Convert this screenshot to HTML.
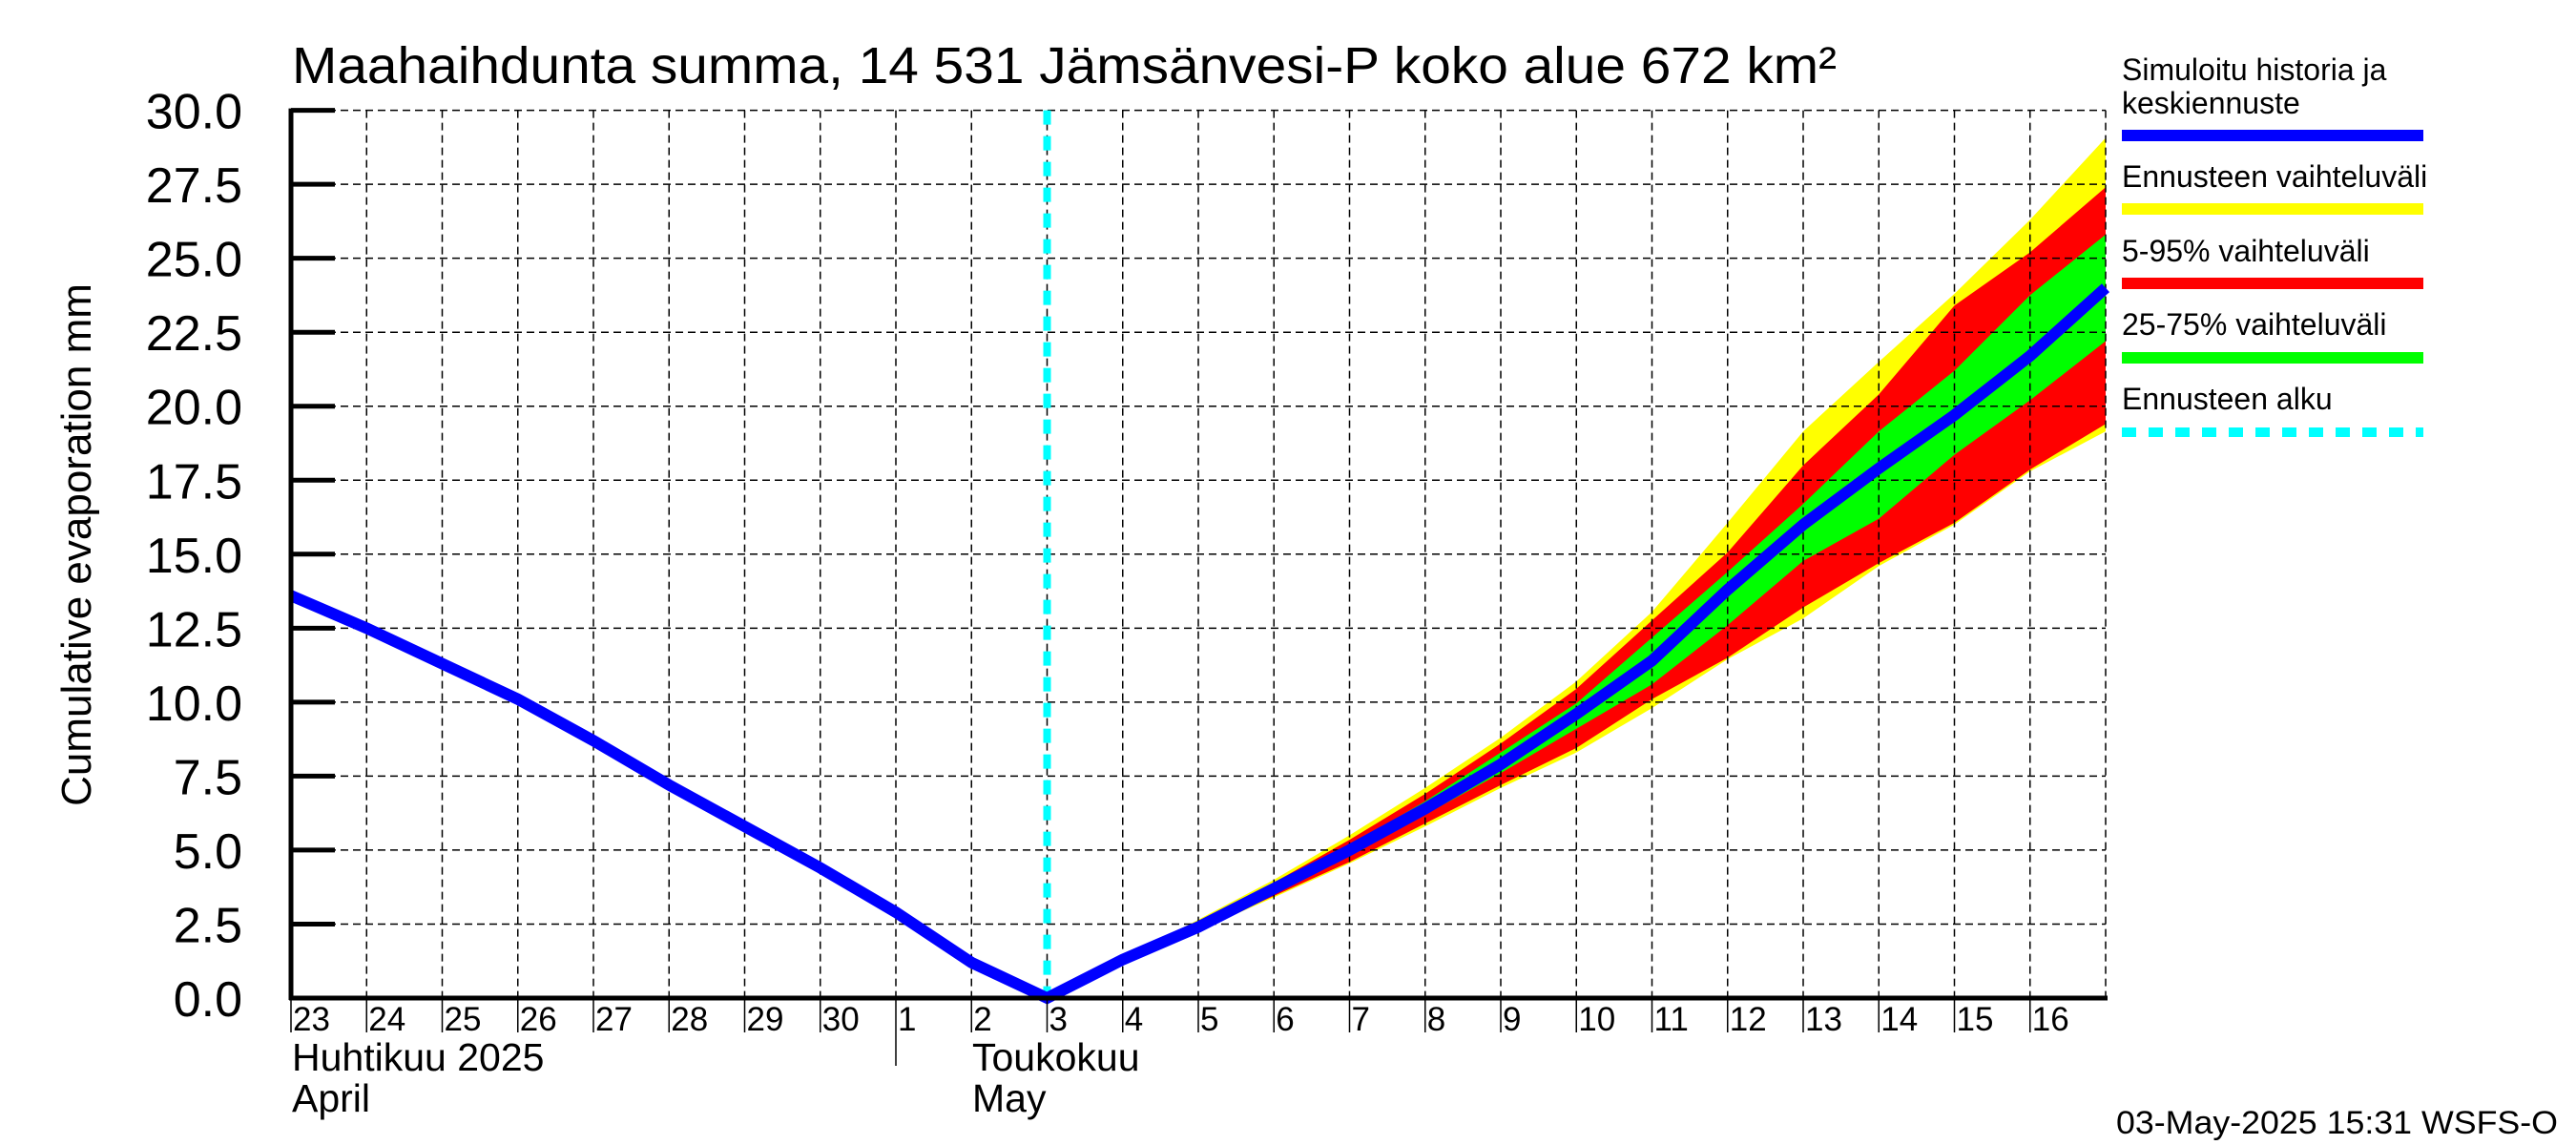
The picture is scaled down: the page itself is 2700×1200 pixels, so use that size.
<!DOCTYPE html>
<html><head><meta charset="utf-8"><style>
html,body{margin:0;padding:0;background:#fff;}
svg{display:block;font-family:"Liberation Sans",Arial,sans-serif;}
</style></head><body>
<svg id="chart" width="2700" height="1200" viewBox="0 0 2700 1200" xmlns="http://www.w3.org/2000/svg">
<rect x="0" y="0" width="2700" height="1200" fill="#fff"/>
<text x="306" y="87" font-size="54" textLength="1619" lengthAdjust="spacingAndGlyphs">Maahaihdunta summa, 14 531 Jämsänvesi-P koko alue 672 km²</text>
<g id="bands"></g>
<g id="grid"></g>
<g id="lines"></g>
<g id="axes"></g>
<text transform="translate(95,571) rotate(-90)" text-anchor="middle" font-size="44">Cumulative evaporation   mm</text>
<g>
<text x="2224" y="84" font-size="32">Simuloitu historia ja</text>
<text x="2224" y="119" font-size="32">keskiennuste</text>
<rect x="2224" y="136" width="316" height="12" fill="#0000ff"/>
<text x="2224" y="196" font-size="32">Ennusteen vaihteluväli</text>
<rect x="2224" y="213" width="316" height="12" fill="#ffff00"/>
<text x="2224" y="274" font-size="32">5-95% vaihteluväli</text>
<rect x="2224" y="291" width="316" height="12" fill="#ff0000"/>
<text x="2224" y="351" font-size="32">25-75% vaihteluväli</text>
<rect x="2224" y="369" width="316" height="12" fill="#00ff00"/>
<text x="2224" y="429" font-size="32">Ennusteen alku</text>
<line x1="2224" y1="453" x2="2540" y2="453" stroke="#00ffff" stroke-width="10" stroke-dasharray="15 13"/>
</g>
<text x="2681" y="1188" text-anchor="end" font-size="34" textLength="463" lengthAdjust="spacingAndGlyphs">03-May-2025 15:31 WSFS-O</text>
</svg>
<script>
const dayLabels = ["23","24","25","26","27","28","29","30","1","2","3","4","5","6","7","8","9","10","11","12","13","14","15","16"];
const yTicks = [0,2.5,5,7.5,10,12.5,15,17.5,20,22.5,25,27.5,30];
const yTickLabels = ["0.0","2.5","5.0","7.5","10.0","12.5","15.0","17.5","20.0","22.5","25.0","27.5","30.0"];
const histIdx = [0,1,2,3,4,5,6,7,8,9,10];
const histValues = [13.6,12.5,11.3,10.1,8.7,7.2,5.8,4.4,2.9,1.2,0.0];
const fcIdx = [10,11,12,13,14,15,16,17,18,19,20,21,22,23,24];
const fcMedian = [0,1.3,2.4,3.7,5.0,6.4,7.9,9.6,11.4,13.8,16.0,17.9,19.7,21.7,24.0];
const fcMax = [0,1.35,2.65,4.0,5.5,7.1,8.8,10.7,13.05,16.06,19.15,21.5,23.8,26.3,29.07];
const fc95 = [0,1.33,2.55,3.9,5.35,6.9,8.6,10.45,12.76,15.06,18.0,20.4,23.4,25.2,27.4];
const fc75 = [0,1.32,2.5,3.8,5.15,6.65,8.3,9.96,12.18,14.4,16.7,19.15,21.2,23.75,25.8];
const fc25 = [0,1.28,2.35,3.6,4.85,6.2,7.6,9.1,10.6,12.6,14.77,16.2,18.36,20.2,22.2];
const fc5 = [0,1.26,2.3,3.45,4.6,5.9,7.2,8.45,10.1,11.5,13.2,14.7,16.06,17.86,19.4];
const fcMin = [0,1.25,2.28,3.4,4.55,5.8,7.1,8.3,9.8,11.45,12.83,14.6,16.0,17.8,19.15];
const forecastStartIdx = 10;
const monthStartIdx = 8;

const NS="http://www.w3.org/2000/svg";
const L=305,R=2207,T=115.6,B=1046,NDAYS=24,YMAX=30;
const x=i=>L+(R-L)*i/NDAYS;
const y=v=>B-(B-T)*v/YMAX;
function mk(tag,attrs,parent){const e=document.createElementNS(NS,tag);for(const k in attrs)e.setAttribute(k,attrs[k]);parent.appendChild(e);return e;}
const bands=document.getElementById('bands'),grid=document.getElementById('grid'),lines=document.getElementById('lines'),axes=document.getElementById('axes');
function band(up,lo,color,name){
  let pts=fcIdx.map((d,i)=>x(d)+','+y(up[i]));
  for(let i=fcIdx.length-1;i>=0;i--)pts.push(x(fcIdx[i])+','+y(lo[i]));
  const p=mk('polygon',{points:pts.join(' '),fill:color},bands);
  
  
}
band(fcMax,fcMin,'#ffff00','band-full-range');
band(fc95,fc5,'#ff0000','band-5-95');
band(fc75,fc25,'#00ff00','band-25-75');
// grid
for(let i=1;i<=NDAYS;i++){
  const g=mk('line',{x1:x(i),y1:T,x2:x(i),y2:B,stroke:'#000','stroke-width':1.5,'stroke-dasharray':'8 5'},grid);
  
  
}
yTicks.forEach(v=>{
  if(v===0)return;
  const g=mk('line',{x1:L,y1:y(v),x2:R,y2:y(v),stroke:'#000','stroke-width':1.5,'stroke-dasharray':'8 5'},grid);
  
  
});
// forecast start
const fs=mk('line',{x1:x(forecastStartIdx),y1:T,x2:x(forecastStartIdx),y2:B,stroke:'#00ffff','stroke-width':8,'stroke-dasharray':'15 12'},lines);


// blue line
const allIdx=histIdx.concat(fcIdx.slice(1)),allVal=histValues.concat(fcMedian.slice(1));
const bl=mk('polyline',{points:allIdx.map((d,i)=>x(d)+','+y(allVal[i])).join(' '),fill:'none',stroke:'#0000ff','stroke-width':12,'stroke-linejoin':'miter'},lines);


// axes
const ax1=mk('line',{x1:L,y1:T-2,x2:L,y2:B+2,stroke:'#000','stroke-width':5},axes);


const ax2=mk('line',{x1:L-2,y1:B,x2:R+2,y2:B,stroke:'#000','stroke-width':5},axes);


yTicks.forEach((v,i)=>{
  const t=mk('line',{x1:L,y1:y(v),x2:L+46,y2:y(v),stroke:'#000','stroke-width':5},axes);
  
  
  const tx=mk('text',{x:254,y:y(v)+19,'text-anchor':'end','font-size':52},axes);
  tx.textContent=yTickLabels[i];
  
  
});
dayLabels.forEach((lab,i)=>{
  const t=mk('line',{x1:x(i),y1:B,x2:x(i),y2:i===monthStartIdx?1117:1082,stroke:'#000','stroke-width':1.5},axes);
  
  
  const tx=mk('text',{x:x(i)+2,y:1080,'font-size':35},axes);
  tx.textContent=lab;
  
  
});
[["Huhtikuu  2025",306,1122,'month-label-fi-april'],["April",306,1165,'month-label-en-april'],["Toukokuu",1019,1122,'month-label-fi-may'],["May",1019,1165,'month-label-en-may']].forEach(m=>{
  const tx=mk('text',{x:m[1],y:m[2],'font-size':41},axes);
  tx.textContent=m[0];
  
  
});
</script>
</body></html>
